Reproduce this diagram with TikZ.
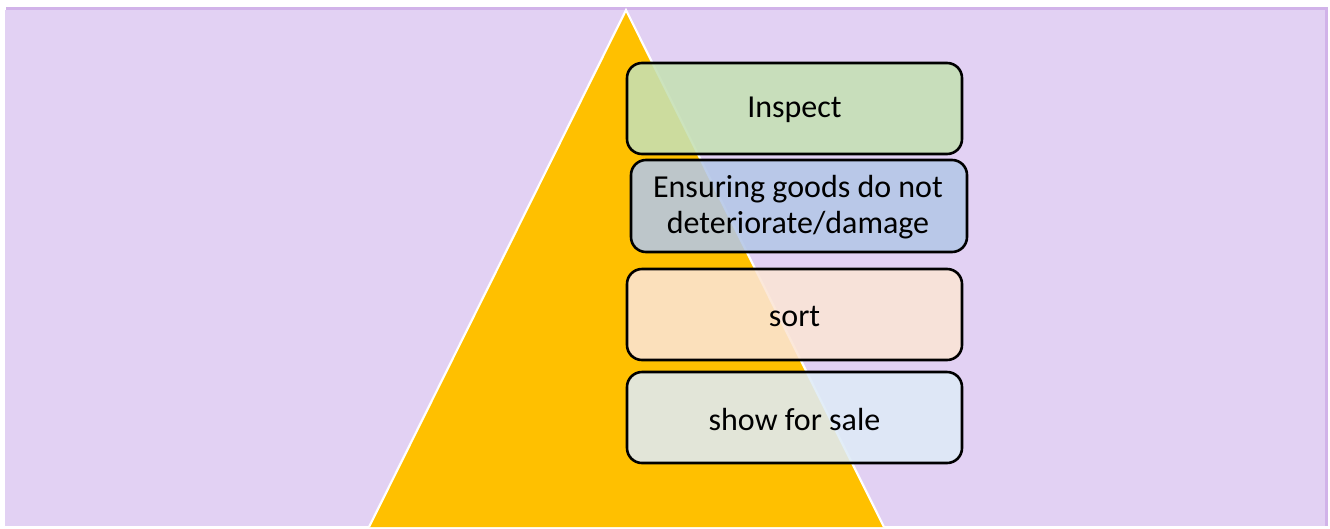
\documentclass[tikz,border=0pt]{standalone}
\usepackage{fontspec}
\setmainfont{Carlito}
\definecolor{lav}{HTML}{E2D1F3}
\definecolor{lavdark}{HTML}{D1B3E9}
\definecolor{gold}{HTML}{FFC000}
\definecolor{cgreen}{HTML}{C5E0B4}
\definecolor{cblue}{HTML}{B4C7E7}
\definecolor{corange}{HTML}{FBE5D6}
\definecolor{clblue}{HTML}{DEEBF7}
\tikzset{
  stepbox/.style={draw=black, line width=2.6pt, rounded corners=15pt,
    fill opacity=0.88, text opacity=1},
  steptext/.style={font=\fontsize{32}{36}\selectfont, align=center, inner sep=0pt},
}
\begin{document}
\begin{tikzpicture}[x=1pt,y=-1pt]
\useasboundingbox (0,0) rectangle (1330,528);
% background
\fill[lavdark] (6,7) rectangle (1328,526);
\fill[lav] (5,10) rectangle (1325,526);
% triangle
\coordinate (apex) at (626,10);
\coordinate (bl) at (369,527);
\coordinate (br) at (884,527);
\filldraw[fill=gold, draw=white, line width=2.2pt, line join=miter] (bl) -- (apex) -- (br);
% boxes
\path[stepbox, fill=cgreen] (627,63) rectangle (962,154);
\node[steptext] (inspect) at (794.5,110) {Inspect};
\path[stepbox, fill=cblue] (631,160) rectangle (967,252);
\node[steptext] (ensure) at (798,207) {Ensuring goods do not\\deteriorate/damage};
\path[stepbox, fill=corange] (627,269) rectangle (962,360);
\node[steptext] (sort) at (794.5,316) {sort};
\path[stepbox, fill=clblue] (627,372) rectangle (962,463);
\node[steptext] (show) at (794.5,419) {show for sale};
\end{tikzpicture}
\end{document}
